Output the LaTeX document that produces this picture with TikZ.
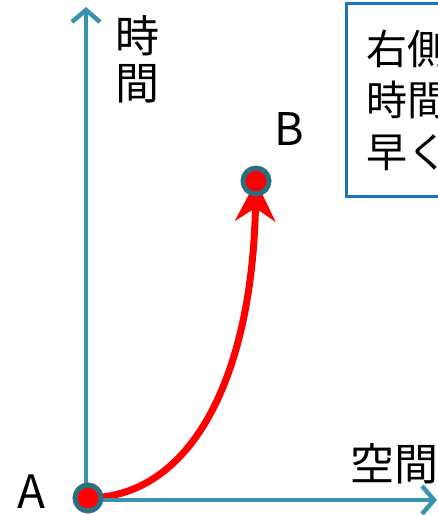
\documentclass[tikz,border=0pt]{standalone}
\usepackage{fontspec}
\setmainfont{Noto Sans CJK JP}
\usetikzlibrary{arrows.meta,backgrounds}
\definecolor{axisc}{HTML}{3A93AC}
\definecolor{ringc}{HTML}{2D6E80}
\definecolor{boxc}{HTML}{1E73BE}
\begin{document}
\begin{tikzpicture}[x=1pt,y=-1pt,
  axis/.style={draw=axisc, line width=4.5pt, -{Straight Barb[length=12pt,width=28pt,line width=4.5pt]}},
  evt/.style={circle, draw=ringc, fill=red, line width=5pt, minimum size=26pt, inner sep=0pt},
  big/.style={inner sep=0pt, font=\fontsize{44}{50}\selectfont},
  boxtxt/.style={inner sep=0pt, anchor=base west, font=\fontsize{41}{50}\selectfont},
  worldline/.style={draw=red, line width=7pt, -{Stealth[length=40pt,width=40pt]}}
]
\useasboundingbox (0,0) rectangle (438,515);
\clip (0,0) rectangle (438,515);
% axes
\coordinate (O) at (86,506);
\coordinate (Ty) at (86,7);
\coordinate (Ox) at (80,500);
\coordinate (Tx) at (437,500);
\draw[axis] (O) -- (Ty);
\draw[axis] (Ox) -- (Tx);
% axis labels
\node[big, anchor=base west] (t1) at (115,52) {時};
\node[big, anchor=base west] (t2) at (115,99) {間};
\node[big, anchor=base west] (sp) at (350,480) {空間};
% events
\node[evt] (A) at (88,498) {};
\node[evt] (B) at (256,181) {};
\node[big, anchor=base west, font=\fontsize{46}{50}\selectfont] (la) at (17,508) {A};
\node[big, anchor=base west, font=\fontsize{45}{50}\selectfont] (lb) at (274,145) {B};
\begin{scope}[on background layer]
\draw[worldline] (A.center) .. controls (190,497) and (252,380) .. (B.center);
\end{scope}
% box
\node[draw=boxc, line width=3pt, anchor=north west, minimum width=140pt, minimum height=193pt, inner sep=0pt] (box) at (345,1.5) {};
\node[boxtxt] (r1) at (366,64) {右側};
\node[boxtxt] (r2) at (366,115) {時間};
\node[boxtxt] (r3) at (366,167) {早く};
\end{tikzpicture}
\end{document}
